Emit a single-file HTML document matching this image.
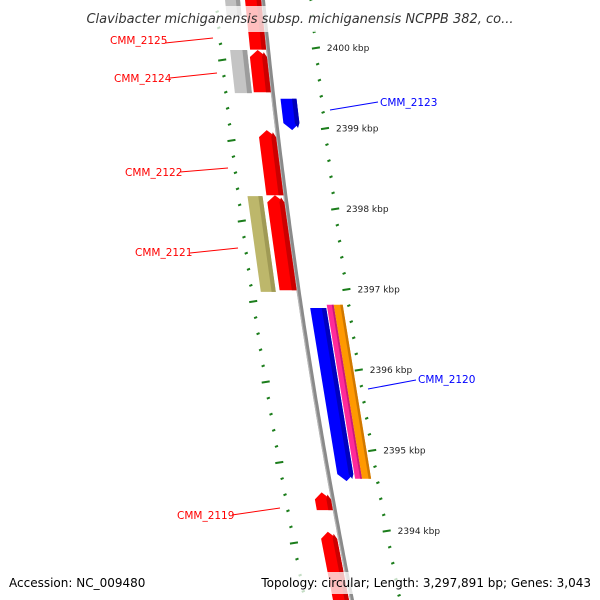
<!DOCTYPE html>
<html><head><meta charset="utf-8"><style>
html,body{margin:0;padding:0;background:#fff;width:600px;height:600px;overflow:hidden;}
svg{display:block;font-family:"DejaVu Sans","Liberation Sans",sans-serif;}
</style></head><body>
<svg id="map" width="600" height="600" viewBox="0 0 600 600" xmlns="http://www.w3.org/2000/svg" overflow="hidden">
<g id="ticks"></g>
<g id="backbone"></g>
<g id="features"></g>
<g id="labels"></g>
<rect x="75" y="6" width="450" height="26" fill="#fff" opacity="0.75"/>
<text x="300" y="23" text-anchor="middle" font-size="13" font-style="italic" fill="#333">Clavibacter michiganensis subsp. michiganensis NCPPB 382, co...</text>
<rect x="0" y="572" width="600" height="22" fill="#fff" opacity="0.75"/>
<text x="9" y="587" font-size="12" fill="#000">Accession: NC_009480</text>
<text x="591" y="587" font-size="12" fill="#000" text-anchor="end">Topology: circular; Length: 3,297,891 bp; Genes: 3,043</text>
</svg>
<script>
// data
const tickKbp = [2400, 2399, 2398, 2397, 2396, 2395, 2394];
const featNames = ["CMM_2125","gray-top","CMM_2124","CMM_2124-red","CMM_2123","CMM_2122","CMM_2121","CMM_2121-red","CMM_2120","CMM_2120-pink","CMM_2120-orange","CMM_2119","CMM_2118"];
const featStart = [2400.72, 2400.6, 2399.975, 2399.975, 2399.37, 2398.98, 2398.16, 2398.17, 2396.77, 2396.81, 2396.81, 2394.48, 2393.99];
const featEnd   = [2399.98, 2400.4, 2399.44, 2399.45, 2398.98, 2398.17, 2396.97, 2396.99, 2394.62, 2394.65, 2394.65, 2394.26, 2393.02];
const featDir   = ["none","none","none","up","down","up","none","up","down","none","none","up","up"];
const featInner = [-18, -38, -38, -19, 7, -19, -38, -19, 9, 26, 33, -18, -19];
const featOuter = [-2, -23, -21, -2, 23, -2, -23, -2, 25, 33, 42, -2, -3];
const featColor = ["#ff0000","#c0c0c0","#c4c4c4","#ff0000","#0000ff","#ff0000","#bdb76b","#ff0000","#0000ff","#ff2a9a","#ff9900","#ff0000","#ff0000"];
const featShade = ["#cc0000","#9a9a9a","#9c9c9c","#cc0000","#0000b8","#cc0000","#a09a55","#cc0000","#0000c0","#cc1a7a","#d07800","#cc0000","#cc0000"];
const labelText = ["CMM_2125","CMM_2124","CMM_2123","CMM_2122","CMM_2121","CMM_2120","CMM_2119"];
const labelColor = ["#f00","#f00","#00f","#f00","#f00","#00f","#f00"];
// layout
const labelPos = [[110,44,165,43,213,38],[114,82,170,78,217,73],[380,106,330,110,378,102],[125,176,180,172,228,168],[135,256,190,253,238,248],[418,383,368,389,416,380],[177,519,232,515,280,508]];
const NS="http://www.w3.org/2000/svg";
function yOf(k){return 48+(2400-k)*80.5;}
function cx(y){return 263+0.0983*y+0.0000833*y*y;}
function mk(tag,attrs,parent){const e=document.createElementNS(NS,tag);for(const a in attrs)e.setAttribute(a,attrs[a]);parent.appendChild(e);return e;}
function pts(a){return a.map(p=>p[0].toFixed(1)+","+p[1].toFixed(1)).join(" ");}
const bb=document.getElementById('backbone');
let bp=[],bp2=[];
for(let y=-5;y<=605;y+=5){bp.push([cx(y)-2,y]);bp2.push([cx(y)+2,y]);}
const bbp=mk('polygon',{points:pts(bp.concat(bp2.reverse())),fill:'#8a8a8a'},bb);


let bl=[];for(let y=-5;y<=605;y+=5){bl.push([cx(y)-1.5,y]);}
const bbl=mk('polyline',{points:pts(bl),fill:'none',stroke:'#b5b5b5','stroke-width':1.2},bb);


const tg=document.getElementById('ticks');
for(let k=2400.6;k>=2392.6;k-=0.2){
  const kk=Math.round(k*10)/10;
  const y=yOf(kk);
  const major=Math.abs(kk-Math.round(kk))<0.01;
  const len=major?8:3;
  const xr=cx(y)+48;
  const r=mk('line',{x1:xr-len/2,y1:y+0.6,x2:xr+len/2,y2:y-0.6,stroke:'#1b7d1b','stroke-width':2},tg);
  
  
  const yl=y+12;
  const ll=major?8:3;
  const xl=cx(yl)-47;
  const l=mk('line',{x1:xl-ll/2,y1:yl+0.6,x2:xl+ll/2,y2:yl-0.6,stroke:'#1b7d1b','stroke-width':2},tg);
  
  
}
tickKbp.forEach(k=>{
  const y=yOf(k);
  const t=mk('text',{x:cx(y)+59,y:y+3,'font-size':9,fill:'#222'},tg);
  t.textContent=k+' kbp';
  
  
});
const fg=document.getElementById('features');
featNames.forEach((n,i)=>{
  const y1=yOf(featStart[i]),y2=yOf(featEnd[i]);
  const a=featInner[i],b=featOuter[i],m=(a+b)/2,d=b-(b-a)*0.28;
  const g=mk('g',{},fg);
  
  
  function shape(o1,o2){
    let p=[];
    const head=7;
    let top=y1,bot=y2;
    if(featDir[i]==='up'){
      p.push([cx(top+head)+o1,top+head]);
      if(o1<=m&&o2>=m)p.push([cx(top)+m,top]);else p.push([cx(top)+(o1+o2)/2,top+head*0.3]);
      p.push([cx(top+head)+o2,top+head]);
      p.push([cx(bot)+o2,bot]);p.push([cx(bot)+o1,bot]);
    }else if(featDir[i]==='down'){
      p.push([cx(top)+o1,top]);p.push([cx(top)+o2,top]);
      p.push([cx(bot-head)+o2,bot-head]);
      if(o1<=m&&o2>=m)p.push([cx(bot)+m,bot]);else p.push([cx(bot)+(o1+o2)/2,bot-head*0.3]);
      p.push([cx(bot-head)+o1,bot-head]);
    }else{
      p.push([cx(top)+o1,top]);p.push([cx(top)+o2,top]);
      p.push([cx(bot)+o2,bot]);p.push([cx(bot)+o1,bot]);
    }
    return pts(p);
  }
  mk('polygon',{points:shape(a,b),fill:featColor[i]},g);
  mk('polygon',{points:shape(d,b),fill:featShade[i]},g);
});
const lg=document.getElementById('labels');
labelText.forEach((t,i)=>{
  const p=labelPos[i];
  const ln=mk('line',{x1:p[2],y1:p[3],x2:p[4],y2:p[5],stroke:labelColor[i],'stroke-width':1},lg);
  
  
  const tx=mk('text',{x:p[0],y:p[1],'font-size':10.5,fill:labelColor[i]},lg);
  tx.textContent=t;
  
  
});
</script>
</body></html>
